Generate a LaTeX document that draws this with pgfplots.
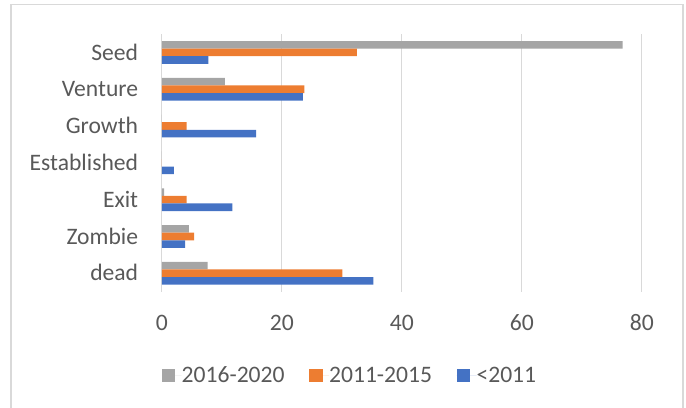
\documentclass[border=0pt]{standalone}
\usepackage{pgfplots}
\pgfplotsset{compat=1.18}
\usepackage{fontspec}
\setmainfont{Carlito}
\definecolor{cgray}{RGB}{165,165,165}
\definecolor{corange}{RGB}{237,125,49}
\definecolor{cblue}{RGB}{68,114,196}
\definecolor{cgrid}{RGB}{217,217,217}
\definecolor{ctext}{RGB}{89,89,89}
\begin{document}
\begin{tikzpicture}
\useasboundingbox (0,0) rectangle (686bp,408bp);
\draw[cgrid, line width=1.2bp] (11bp,-5bp) rectangle (683bp,403.5bp);
\begin{axis}[
  at={(161.8bp,116.3bp)}, anchor=south west,
  scale only axis, width=480bp, height=257.7bp,
  xmin=0, xmax=80, ymin=-0.5, ymax=6.5,
  xtick={0,20,40,60,80},
  ytick={0,1,2,3,4,5,6},
  yticklabels={dead,Zombie,Exit,Established,Growth,Venture,Seed},
  major tick length=0pt,
  axis line style={draw=none},
  xmajorgrids, grid style={cgrid, line width=1.2bp},
  font=\fontsize{23.6bp}{28bp}\selectfont,
  /pgf/number format/assume math mode=true,
  tick label style={text=ctext, inner sep=0pt},
  xticklabel style={anchor=base, yshift=-39.3bp},
  yticklabel style={anchor=base east, xshift=-23.5bp, yshift=-7.6bp},
  xbar, bar width=7.6bp,
  legend columns=3,
  legend style={at={(rel axis cs:0,-0.326)}, anchor=west, draw=none, fill=none,
    inner sep=0pt, outer sep=0pt, text=ctext,
    nodes={inner sep=0pt},
    /tikz/every even column/.append style={column sep=24.6bp}},
  legend cell align=left,
  legend image code/.code={\fill[#1] (0bp,-6.65bp) rectangle (13.3bp,6.65bp); \path (0bp,0bp) -- (19.9bp,0bp);},
]
\addplot[fill=cgray, draw=none, bar shift=7.6bp] coordinates {
  (7.65,0) (4.5,1) (0.4,2) (0,3) (0,4) (10.5,5) (76.8,6)};
\addlegendentry{2016-2020}
\addplot[fill=corange, draw=none, bar shift=0bp] coordinates {
  (30.1,0) (5.4,1) (4.15,2) (0,3) (4.15,4) (23.75,5) (32.5,6)};
\addlegendentry{2011-2015}
\addplot[fill=cblue, draw=none, bar shift=-7.6bp] coordinates {
  (35.25,0) (3.9,1) (11.75,2) (2.0,3) (15.7,4) (23.5,5) (7.75,6)};
\addlegendentry{<2011}
\end{axis}
\end{tikzpicture}
\end{document}
